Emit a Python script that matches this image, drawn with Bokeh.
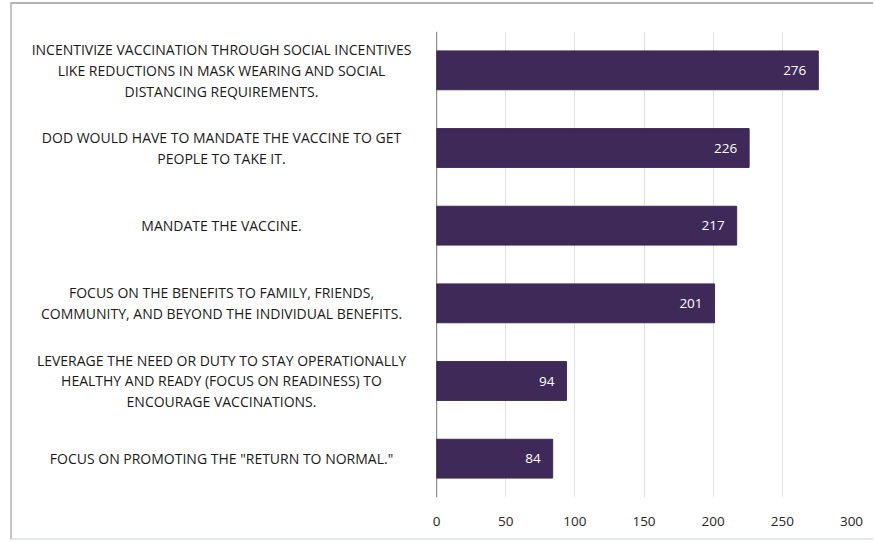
from bokeh.plotting import figure
from bokeh.models import ColumnDataSource, FactorRange, Range1d, FixedTicker, Span
from bokeh.core.properties import value
from bokeh.embed import file_html
from bokeh.resources import INLINE

categories = [
    "INCENTIVIZE VACCINATION THROUGH SOCIAL INCENTIVES\nLIKE REDUCTIONS IN MASK WEARING AND SOCIAL\nDISTANCING REQUIREMENTS.",
    "DOD WOULD HAVE TO MANDATE THE VACCINE TO GET\nPEOPLE TO TAKE IT.",
    "MANDATE THE VACCINE.",
    "FOCUS ON THE BENEFITS TO FAMILY, FRIENDS,\nCOMMUNITY, AND BEYOND THE INDIVIDUAL BENEFITS.",
    "LEVERAGE THE NEED OR DUTY TO STAY OPERATIONALLY\nHEALTHY AND READY (FOCUS ON READINESS) TO\nENCOURAGE VACCINATIONS.",
    "FOCUS ON PROMOTING THE \"RETURN TO NORMAL.\"",
]
counts = [276, 226, 217, 201, 94, 84]
x_ticks = [0, 50, 100, 150, 200, 250, 300]

FONT = "Open Sans"
BAR_COLOR = "#3F2958"

src = ColumnDataSource(dict(cat=categories, val=counts,
                            lbl=[str(v) for v in counts],
                            zero=[0] * len(counts)))

p = figure(width=863, height=538, output_backend="svg",
           toolbar_location=None,
           y_range=FactorRange(factors=list(reversed(categories))),
           x_range=Range1d(0, 300),
           min_border_left=424, min_border_right=24, min_border_top=27,
           min_border_bottom=45,
           styles={"margin-left": "10px", "margin-top": "2px",
                   "border-left": "2px solid #c4c4c4",
                   "border-top": "2px solid #b4b4b4",
                   "border-bottom": "2px solid #e4e8ee"})
p.outline_line_color = None
p.background_fill_color = "white"
p.border_fill_color = "white"

p.hbar(y="cat", right="val", height=0.5, source=src, color=BAR_COLOR)

# vertical axis line at zero
p.add_layout(Span(location=0, dimension="height", line_color="#1a1a1a",
                  line_width=1.2))

# value labels inside bar ends
p.text(x="val", y="cat", text="lbl", source=src, x_offset=-12,
       text_align="right", text_baseline="middle", text_color="white",
       text_font=value(FONT), text_font_size="13.5px")

# category labels, centred, to the left of the axis
p.text(x="zero", y="cat", text="cat", source=src, x_offset=-215,
       text_align="center", text_baseline="middle", text_color="#1a1a1a",
       text_font=value(FONT), text_font_size="14px", text_line_height=1.1,
       level="annotation")

p.xaxis.ticker = FixedTicker(ticks=x_ticks)
p.xaxis.axis_line_color = None
p.xaxis.major_tick_line_color = None
p.xaxis.minor_tick_line_color = None
p.xaxis.major_label_standoff = 13
p.xaxis.major_label_text_font = FONT
p.xaxis.major_label_text_font_size = "13.5px"
p.xaxis.major_label_text_color = "#262626"

p.yaxis.visible = False

p.xgrid.grid_line_color = "#e0e0e0"
p.xgrid.grid_line_width = 1
p.ygrid.grid_line_color = None

open("out.html", "w").write(file_html(p, INLINE))
